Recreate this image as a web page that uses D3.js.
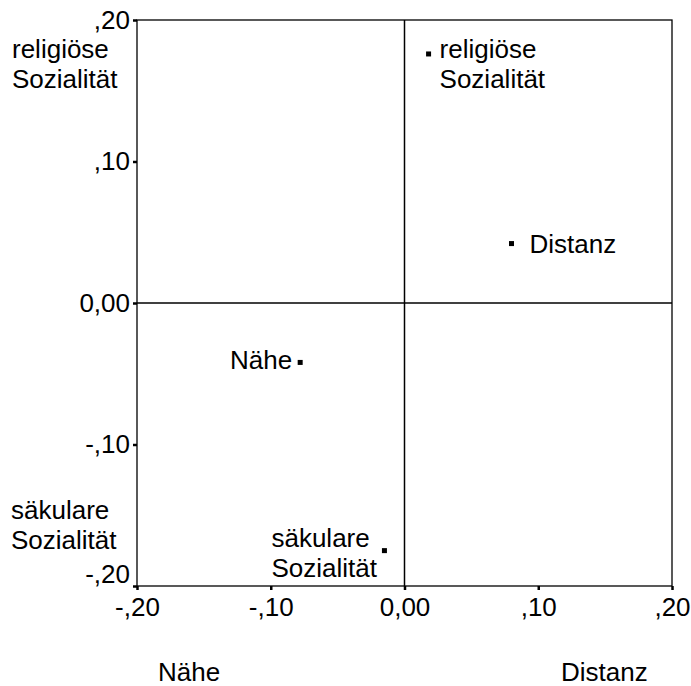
<!DOCTYPE html>
<html>
<head>
<meta charset="utf-8">
<script src="https://cdn.jsdelivr.net/npm/d3@7"></script>
<style>
  html, body { margin: 0; padding: 0; background: #fff; }
  svg { display: block; }
  text { font-family: "Liberation Sans", Arial, sans-serif; fill: #000; }
</style>
</head>
<body>
<svg id="chart" width="691" height="686"></svg>
<script>
// ---- data ----
const pointLabels = ["religiöse Sozialität", "Distanz", "Nähe", "säkulare Sozialität"];
const xValues = [0.018, 0.080, -0.078, -0.015];
const yValues = [0.176, 0.042, -0.042, -0.175];
const tickValues = [-0.2, -0.1, 0, 0.1, 0.2];
const tickLabels = ["-,20", "-,10", "0,00", ",10", ",20"];
const yAxisTitles = ["religiöse Sozialität", "säkulare Sozialität"]; // top, bottom
const xAxisTitles = ["Nähe", "Distanz"]; // left, right

// ---- layout / style ----
const W = 691, H = 686;
const plot = { left: 137, right: 672, top: 20, bottom: 586 };
const fontSize = 26;
const lineH = 30;
// label placement relative to marker: anchor, dx, dy of first baseline
const labelPlacement = [
  { anchor: "start", dx: 11, dy: 4 },
  { anchor: "start", dx: 18, dy: 9 },
  { anchor: "end", dx: -8, dy: 7 },
  { anchor: "start", dx: -113, dy: -4 }
];

const svg = d3.select("#chart");
const x = d3.scaleLinear().domain([-0.2, 0.2]).range([plot.left, plot.right]);
const y = d3.scaleLinear().domain([-0.2, 0.2]).range([plot.bottom, plot.top]);
const fmt = d => tickLabels[tickValues.findIndex(t => Math.abs(t - d) < 1e-9)];

// frame
svg.append("rect")
  .attr("x", plot.left).attr("y", plot.top)
  .attr("width", plot.right - plot.left).attr("height", plot.bottom - plot.top)
  .attr("fill", "none").attr("stroke", "#000").attr("stroke-width", 1.3);

// reference lines at 0
svg.append("line")
  .attr("x1", x(0)).attr("x2", x(0)).attr("y1", plot.top).attr("y2", plot.bottom)
  .attr("stroke", "#000").attr("stroke-width", 1.5);
svg.append("line")
  .attr("x1", plot.left).attr("x2", plot.right).attr("y1", y(0)).attr("y2", y(0))
  .attr("stroke", "#000").attr("stroke-width", 1.5);

// axes
const yAxis = svg.append("g")
  .attr("transform", `translate(${plot.left},0)`)
  .call(d3.axisLeft(y).tickValues(tickValues).tickFormat(fmt).tickSize(4).tickPadding(3));
const xAxis = svg.append("g")
  .attr("transform", `translate(0,${plot.bottom})`)
  .call(d3.axisBottom(x).tickValues(tickValues).tickFormat(fmt).tickSize(4).tickPadding(8));
[yAxis, xAxis].forEach(g => {
  g.select(".domain").remove();
  g.selectAll(".tick line").attr("stroke", "#000").attr("stroke-width", 2.5);
  g.selectAll(".tick text").attr("font-size", fontSize)
    .attr("font-family", "'Liberation Sans', Arial, sans-serif").attr("fill", "#000");
});
// lowest y tick label lifted to avoid the x-axis labels
yAxis.selectAll(".tick text").filter(d => d === -0.2).attr("dy", "-0.12em");

// axis titles
const addMulti = (sel, lines, xx, yy, anchor) => {
  const t = sel.append("text").attr("font-size", fontSize).attr("text-anchor", anchor);
  lines.forEach((ln, i) => t.append("tspan").attr("x", xx).attr("y", yy + i * lineH).text(ln));
  return t;
};
addMulti(svg, yAxisTitles[0].split(" "), 12, 58, "start");
addMulti(svg, yAxisTitles[1].split(" "), 11, 519, "start");
svg.append("text").attr("font-size", fontSize).attr("x", 158).attr("y", 681).text(xAxisTitles[0]);
svg.append("text").attr("font-size", fontSize).attr("x", 561).attr("y", 681).text(xAxisTitles[1]);

// points
const pts = pointLabels.map((lab, i) => ({ lab, x: xValues[i], y: yValues[i], p: labelPlacement[i] }));
svg.append("g").selectAll("rect").data(pts).join("rect")
  .attr("x", d => x(d.x) - 2.5).attr("y", d => y(d.y) - 2.5)
  .attr("width", 5).attr("height", 5).attr("fill", "#000");

pts.forEach(d => {
  addMulti(svg, d.lab.split(" "), x(d.x) + d.p.dx, y(d.y) + d.p.dy, d.p.anchor);
});
</script>
</body>
</html>
